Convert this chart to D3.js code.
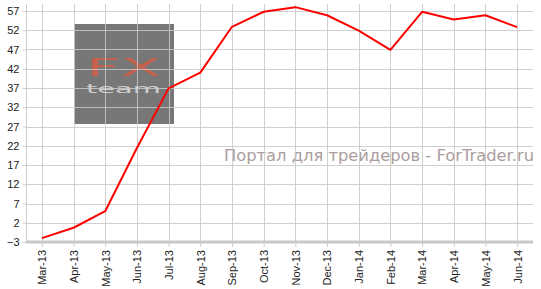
<!DOCTYPE html>
<html>
<head>
<meta charset="utf-8">
<script src="https://cdn.jsdelivr.net/npm/d3@7.9.0/dist/d3.min.js"></script>
<style>
  body { margin: 0; background: #fff; }
  svg { display: block; }
</style>
</head>
<body>
<svg id="chart" width="541" height="289"></svg>
<script>
const months = ["Mar-13", "Apr-13", "May-13", "Jun-13", "Jul-13", "Aug-13", "Sep-13", "Oct-13",
  "Nov-13", "Dec-13", "Jan-14", "Feb-14", "Mar-14", "Apr-14", "May-14", "Jun-14"];
const values = [-2.0, 0.7, 5.0, 21.4, 36.9, 41.0, 52.9, 56.8, 58.0, 55.9, 51.9, 46.9, 56.8, 54.8, 55.9, 52.8];
const yTicks = [-3, 2, 7, 12, 17, 22, 27, 32, 37, 42, 47, 52, 57];

const plotLeft = 26, plotRight = 533, plotTop = 4, plotBottom = 242;

let svg = d3.select("#chart");

let x = d3.scalePoint().domain(months).range([plotLeft, plotRight]).padding(0.5);
let y = d3.scaleLinear().domain([-3, 57]).range([plotBottom, 11]);

// watermark logo box
let logo = svg.append("g");
logo.append("rect").attr("x", 74).attr("y", 24).attr("width", 100).attr("height", 100).attr("fill", "#777");
logo.append("text").attr("x", 86).attr("y", 76).attr("textLength", 75).attr("lengthAdjust", "spacingAndGlyphs")
  .attr("font-family", "DejaVu Sans").attr("font-size", 24)
  .attr("fill", "#c4624e").text("FX");
logo.append("text").attr("x", 86).attr("y", 93).attr("textLength", 75).attr("lengthAdjust", "spacingAndGlyphs")
  .attr("font-family", "DejaVu Sans").attr("font-size", 13)
  .attr("fill", "#cfcfcf").text("team");

// site watermark text
svg.append("text").attr("x", 224).attr("y", 161).attr("textLength", 310).attr("lengthAdjust", "spacingAndGlyphs")
  .attr("font-family", "DejaVu Sans").attr("font-size", 16).attr("fill", "#ab9d9d")
  .text("Портал для трейдеров - ForTrader.ru");

// grid
svg.append("g").selectAll("line").data(yTicks.slice(1)).join("line")
  .attr("x1", plotLeft).attr("x2", plotRight)
  .attr("y1", d => Math.round(y(d)) + 0.5).attr("y2", d => Math.round(y(d)) + 0.5)
  .attr("stroke", "#c8c8c8").attr("stroke-opacity", 0.85);
svg.append("g").selectAll("line").data(months).join("line")
  .attr("x1", d => Math.round(x(d)) + 0.5).attr("x2", d => Math.round(x(d)) + 0.5)
  .attr("y1", plotTop).attr("y2", plotBottom)
  .attr("stroke", "#c8c8c8").attr("stroke-opacity", 0.85);

// y axis
let yAxis = svg.append("g").attr("transform", `translate(${plotLeft + 0.5},0)`)
  .call(d3.axisLeft(y).tickValues(yTicks).tickSize(4).tickPadding(3));
yAxis.select(".domain").attr("stroke", "#ccc").attr("d", `M0,${plotTop}V${plotBottom}`);
yAxis.selectAll(".tick line").attr("stroke", "#ccc");
yAxis.selectAll("text").attr("font-family", "Liberation Sans").attr("font-size", 11).attr("fill", "#222");

// x axis
let xAxis = svg.append("g").attr("transform", `translate(0,${plotBottom})`)
  .call(d3.axisBottom(x).tickSize(5).tickSizeOuter(0));
xAxis.select(".domain").attr("stroke", "#c8c8c8").attr("stroke-width", 3).attr("d", `M${plotLeft},0H${plotRight}`);
xAxis.selectAll(".tick line").attr("stroke", "#ccc");
xAxis.selectAll("text")
  .attr("font-family", "Liberation Sans").attr("font-size", 11).attr("fill", "#222")
  .attr("transform", "rotate(-90)").attr("text-anchor", "end")
  .attr("x", -8).attr("y", 0).attr("dy", "0.35em");

// line
let line = d3.line().x((d, i) => x(months[i])).y(d => y(d));
svg.append("path").datum(values).attr("d", line)
  .attr("fill", "none").attr("stroke", "#ff0000").attr("stroke-width", 2).attr("stroke-linejoin", "round");
</script>
</body>
</html>
